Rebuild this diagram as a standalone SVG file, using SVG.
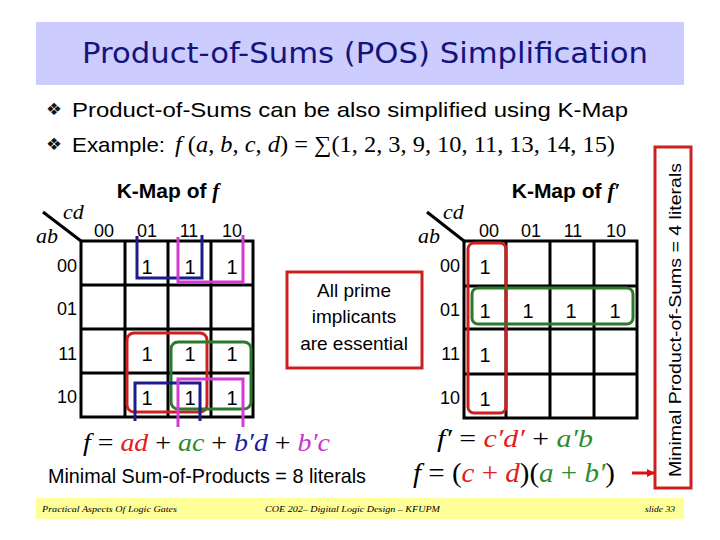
<svg xmlns="http://www.w3.org/2000/svg" width="720" height="540" viewBox="0 0 720 540">
<style>
.sans{font-family:"Liberation Sans",Arial,sans-serif;fill:#000}
.math{font-family:"Liberation Serif","DejaVu Serif",serif}
.it{font-style:italic}
.grid{fill:none;stroke:#000;stroke-width:3}
.lbl{font-family:"Liberation Sans",Arial,sans-serif;font-size:18px;fill:#000}
.one{font-family:"Liberation Sans",Arial,sans-serif;font-size:20px;fill:#000;text-anchor:middle}
.loop{fill:none;stroke-width:3}
.red{stroke:#cc2020}.green{stroke:#2a7a2a}.blue{stroke:#1c1c8c}.mag{stroke:#d23cd2}
.fr{fill:#e02020}.fg{fill:#2e8b2e}.fb{fill:#1c1c99}.fm{fill:#cc33cc}
.foot{font-family:"Liberation Serif",serif;font-style:italic;font-size:9px;fill:#000}
.bul{font-family:"DejaVu Sans",sans-serif;font-size:17px;fill:#111}
</style>
<defs>
<marker id="arr" markerWidth="8" markerHeight="8" refX="7" refY="4" orient="auto" markerUnits="userSpaceOnUse">
<path d="M0,0 L8,4 L0,8 z" fill="#e01010"/>
</marker>
</defs>
<rect width="720" height="540" fill="#fff"/>

<g id="title">
<rect x="36" y="22" width="648" height="63" fill="#CCCCFF"/>
<text x="365" y="63" text-anchor="middle" font-family="'DejaVu Sans',sans-serif" font-size="28" fill="#14147a" textLength="566" lengthAdjust="spacingAndGlyphs">Product-of-Sums (POS) Simplification</text>
</g>

<g id="bullets">
<text x="46" y="115" class="bul" textLength="16" lengthAdjust="spacingAndGlyphs">❖</text>
<text x="72" y="117" class="sans" font-size="21" textLength="556" lengthAdjust="spacingAndGlyphs">Product-of-Sums can be also simplified using K-Map</text>
<text x="46" y="150" class="bul" textLength="16" lengthAdjust="spacingAndGlyphs">❖</text>
<text x="72" y="152" class="sans" font-size="21" textLength="93" lengthAdjust="spacingAndGlyphs">Example:</text>
<text x="175" y="152" class="math" font-size="23" textLength="440" lengthAdjust="spacingAndGlyphs"><tspan class="it">f</tspan> (<tspan class="it">a</tspan>, <tspan class="it">b</tspan>, <tspan class="it">c</tspan>, <tspan class="it">d</tspan>) = ∑(1, 2, 3, 9, 10, 11, 13, 14, 15)</text>
</g>

<g id="kmap-f">
<text x="168" y="198" class="sans" font-size="21" font-weight="bold" text-anchor="middle">K-Map of <tspan class="math it" font-weight="bold">f</tspan></text>
<line x1="43" y1="212" x2="81" y2="241" stroke="#000" stroke-width="3"/>
<text x="63" y="219" class="math it" font-size="22">cd</text>
<text x="36" y="243" class="math it" font-size="22">ab</text>
<g class="lbl" text-anchor="middle">
<text x="104" y="237">00</text><text x="147" y="237">01</text><text x="189" y="237">11</text><text x="232" y="237">10</text>
</g>
<g class="lbl" text-anchor="end">
<text x="77" y="272">00</text><text x="77" y="315">01</text><text x="77" y="360">11</text><text x="77" y="403">10</text>
</g>
<rect class="grid" x="81" y="241" width="172" height="176"/>
<path class="grid" d="M125,241V417M168,241V417M211,241V417M81,285H253M81,329H253M81,373H253"/>
<g>
<text class="one" x="147" y="274">1</text><text class="one" x="190" y="274">1</text><text class="one" x="232" y="274">1</text>
<text class="one" x="147" y="361">1</text><text class="one" x="190" y="361">1</text><text class="one" x="232" y="361">1</text>
<text class="one" x="147" y="405">1</text><text class="one" x="190" y="405">1</text><text class="one" x="232" y="405">1</text>
</g>
<path class="loop blue" d="M137,236V278H202V235"/>
<path class="loop mag" d="M178,237V282H243V235"/>
<rect class="loop red" x="127" y="333" width="80" height="79" rx="7"/>
<rect class="loop green" x="171" y="342" width="80" height="67" rx="7"/>
<path class="loop blue" d="M135,421V383H200V421"/>
<path class="loop mag" d="M178,427V379H243V427"/>
</g>

<g id="note">
<rect x="287" y="272" width="135" height="96" fill="#fff" stroke="#cc2020" stroke-width="3"/>
<g class="sans" font-size="19" text-anchor="middle">
<text x="354" y="297">All prime</text>
<text x="354" y="323">implicants</text>
<text x="354" y="350">are essential</text>
</g>
</g>

<g id="kmap-fprime">
<text x="566" y="198" class="sans" font-size="21" font-weight="bold" text-anchor="middle">K-Map of <tspan class="math it" font-weight="bold">f′</tspan></text>
<line x1="427" y1="212" x2="464" y2="241" stroke="#000" stroke-width="3"/>
<text x="443" y="219" class="math it" font-size="22">cd</text>
<text x="418" y="243" class="math it" font-size="22">ab</text>
<g class="lbl" text-anchor="middle">
<text x="489" y="237">00</text><text x="531" y="237">01</text><text x="573" y="237">11</text><text x="616" y="237">10</text>
</g>
<g class="lbl" text-anchor="end">
<text x="460" y="272">00</text><text x="460" y="316">01</text><text x="460" y="360">11</text><text x="460" y="404">10</text>
</g>
<rect class="grid" x="464" y="241" width="173" height="177"/>
<path class="grid" d="M506,241V418M550,241V418M594,241V418M464,286H637M464,329H637M464,374H637"/>
<g>
<text class="one" x="485" y="274">1</text>
<text class="one" x="485" y="318">1</text><text class="one" x="528" y="318">1</text><text class="one" x="571" y="318">1</text><text class="one" x="615" y="318">1</text>
<text class="one" x="485" y="362">1</text>
<text class="one" x="485" y="406">1</text>
</g>
<rect class="loop red" x="468" y="243" width="38" height="170" rx="6"/>
<rect class="loop green" x="472" y="288" width="161" height="36" rx="6"/>
</g>

<g id="equations">
<text x="83" y="451" class="math it" font-size="25" textLength="247" lengthAdjust="spacingAndGlyphs">f <tspan font-style="normal">=</tspan> <tspan class="fr">ad</tspan> <tspan font-style="normal">+</tspan> <tspan class="fg">ac</tspan> <tspan font-style="normal">+</tspan> <tspan class="fb">b′d</tspan> <tspan font-style="normal">+</tspan> <tspan class="fm">b′c</tspan></text>
<text x="48" y="483" class="sans" font-size="21" textLength="318" lengthAdjust="spacingAndGlyphs">Minimal Sum-of-Products = 8 literals</text>
<text x="437" y="447" class="math it" font-size="25" textLength="156" lengthAdjust="spacingAndGlyphs">f′ <tspan font-style="normal">=</tspan> <tspan class="fr">c′d′</tspan> <tspan font-style="normal">+</tspan> <tspan class="fg">a′b</tspan></text>
<text x="413" y="482" class="math it" font-size="28" textLength="202" lengthAdjust="spacingAndGlyphs">f <tspan font-style="normal">= (</tspan><tspan class="fr">c <tspan font-style="normal">+</tspan> d</tspan><tspan font-style="normal">)(</tspan><tspan class="fg">a <tspan font-style="normal">+</tspan> b′</tspan><tspan font-style="normal">)</tspan></text>
</g>

<g id="pos-note">
<rect x="655" y="147" width="36" height="341" fill="#fff" stroke="#cc2020" stroke-width="3"/>
<text transform="translate(681,320) rotate(-90)" class="sans" font-size="17" text-anchor="middle" textLength="314" lengthAdjust="spacingAndGlyphs">Minimal Product-of-Sums = 4 literals</text>
</g>

<g id="connectors">
<line x1="632" y1="473" x2="654" y2="473" stroke="#e01010" stroke-width="3" marker-end="url(#arr)"/>
</g>

<g id="footer">
<rect x="36" y="498" width="648" height="21" fill="#FFFF99"/>
<text x="42" y="512" class="foot" textLength="135" lengthAdjust="spacingAndGlyphs">Practical Aspects Of Logic Gates</text>
<text x="265" y="512" class="foot" textLength="175" lengthAdjust="spacingAndGlyphs">COE 202– Digital Logic  Design – KFUPM</text>
<text x="645" y="512" class="foot" textLength="30" lengthAdjust="spacingAndGlyphs">slide 33</text>
</g>
</svg>
